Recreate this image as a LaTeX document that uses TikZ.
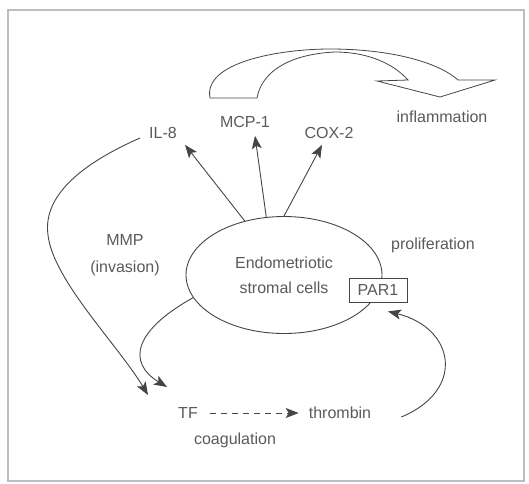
\documentclass[tikz,border=0pt]{standalone}
\usepackage{fontspec}
\setmainfont{Liberation Sans}
\usepackage{tikz}
\usetikzlibrary{shapes.geometric,arrows.meta,positioning,calc}
\definecolor{linegray}{HTML}{454545}
\definecolor{textgray}{HTML}{5A5A5A}
\definecolor{framegray}{HTML}{BDBDBD}

\begin{document}
\begin{tikzpicture}[x=1pt,y=-1pt,
  lbl/.style={font=\fontsize{16}{20}\selectfont,text=textgray,
              inner sep=2pt,align=center},
  cell/.style={ellipse,draw=linegray,line width=0.9pt,
               minimum width=196pt,minimum height=117pt,inner sep=0pt,
               font=\fontsize{16}{25}\selectfont,text=textgray,align=center},
  receptor/.style={draw=linegray,fill=white,line width=0.8pt,
                   minimum width=58pt,minimum height=24pt,inner sep=2pt,
                   font=\fontsize{16}{20}\selectfont,text=textgray},
  arr/.style={-{Stealth[length=13pt,width=10pt,inset=3pt]},line width=0.9pt,
              draw=linegray},
  darr/.style={arr,dash pattern=on 6pt off 5pt}
]
\useasboundingbox (0,0) rectangle (529,483);

% Rahmen
\draw[framegray,line width=1.2pt] (8,10) rectangle (524,481);

% Zelle und Rezeptor
\node[cell] (cells) at (284,275) {Endometriotic\\stromal cells};
\node[receptor] (par) at (378,290) {PAR1};

% Mediatoren
\node[lbl] (il8)  at (163,133) {IL-8};
\node[lbl] (mcp)  at (245,122) {MCP-1};
\node[lbl] (cox)  at (329,133) {COX-2};
\node[lbl] (infl) at (442,117) {inflammation};

% Beschriftungen
\node[lbl] (prolif) at (433,245) {proliferation};
\node[lbl] (mmp) at (125,255) {MMP\\[7pt](invasion)};
\node[lbl] (tf)   at (188,413) {TF};
\node[lbl] (thr)  at (340,413) {thrombin};
\node[lbl] (coag) at (235,440) {coagulation};

% Pfeile Zelle -> Mediatoren
\draw[arr] (cells.126) -- ([xshift=6pt,yshift=-4pt]il8.south east);
\draw[arr] (cells.107) -- ([xshift=10pt,yshift=-6pt]mcp.south);
\draw[arr] (cells.90)  -- ([xshift=-7pt,yshift=-4pt]cox.south);

% Bogenpfeil -> inflammation
\draw[linegray,line width=0.8pt,line join=miter]
  (210,98) .. controls (203,62) and (280,49) .. (330,49)
           .. controls (390,49) and (438,62) .. (458,80)
  -- (495,80) -- (440,97) -- (377,81) -- (408,80)
           .. controls (392,62) and (365,52) .. (335,52)
           .. controls (292,54) and (262,70) .. (257,98) -- cycle;

% IL-8 -> TF (MMP)
\draw[arr] ([xshift=-7pt,yshift=-5pt]il8.west)
  .. controls (90,160) and (42,192) .. (48,235)
  .. controls (53,280) and (118,345) .. ([xshift=-40pt,yshift=18pt]tf.center);

% Zelle -> TF
\draw[arr] (cells.194)
  .. controls (135,330) and (126,362) .. ([xshift=-21pt,yshift=26pt]tf.center);

% TF -> thrombin (Gerinnung)
\draw[darr] ([xshift=10pt]tf.east) -- ([xshift=-8pt]thr.west);

% thrombin -> PAR1
\draw[arr] ([xshift=28pt,yshift=-4pt]thr.east)
  .. controls (466,390) and (455,328) .. ([xshift=10pt,yshift=-9pt]par.south);

\end{tikzpicture}
\end{document}
